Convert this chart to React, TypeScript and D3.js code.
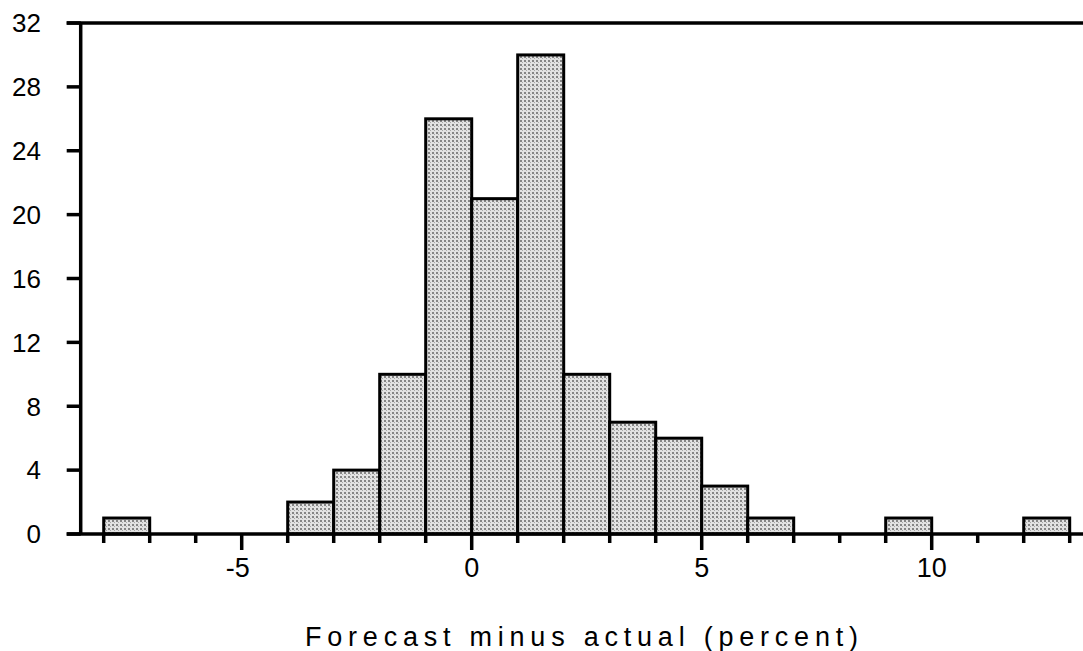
import React, { useRef, useEffect } from "react";
import * as d3 from "d3";

// histogram bins: left edge of each 1-point bin and its count
const binStarts = [-8, -4, -3, -2, -1, 0, 1, 2, 3, 4, 5, 6, 9, 12];
const counts = [1, 2, 4, 10, 26, 21, 30, 10, 7, 6, 3, 1, 1, 1];
const yTicks = [0, 4, 8, 12, 16, 20, 24, 28, 32];
const xMajor = [-5, 0, 5, 10];
const xMinor = [-8, -7, -6, -4, -3, -2, -1, 1, 2, 3, 4, 6, 7, 8, 9, 11, 12, 13];
const xTitle = "Forecast minus actual (percent)";

const W = 1083;
const H = 651;

export default function App() {
  const svgRef = useRef<SVGSVGElement>(null);

  useEffect(() => {
    const svg = d3.select(svgRef.current);
    svg.selectAll("*").remove();

    const x = d3.scaleLinear().domain([-5, 10]).range([241.7, 931.7]);
    const y = d3.scaleLinear().domain([0, 32]).range([534, 23]);
    const left = x(-8.5);
    const right = W;

    // stipple fill
    const defs = svg.append("defs");
    const pat = defs
      .append("pattern")
      .attr("id", "stip")
      .attr("width", 4)
      .attr("height", 4)
      .attr("patternUnits", "userSpaceOnUse");
    pat.append("rect").attr("width", 4).attr("height", 4).attr("fill", "#e2e2e2");
    pat.append("rect").attr("x", 0).attr("y", 0).attr("width", 2).attr("height", 2).attr("fill", "#858585");
    pat.append("rect").attr("x", 2).attr("y", 2).attr("width", 1).attr("height", 1).attr("fill", "#a8a8a8");

    const data = binStarts.map((s, i) => ({ s, c: counts[i] }));

    svg
      .append("g")
      .selectAll("rect")
      .data(data)
      .join("rect")
      .attr("x", (d) => x(d.s))
      .attr("y", (d) => y(d.c))
      .attr("width", (d) => x(d.s + 1) - x(d.s))
      .attr("height", (d) => y(0) - y(d.c))
      .attr("fill", "url(#stip)")
      .attr("stroke", "#000")
      .attr("stroke-width", 3);

    const g = svg.append("g").attr("stroke", "#000").attr("stroke-width", 3.5);
    // frame: left axis, top line, bottom axis
    g.append("line").attr("x1", left).attr("x2", left).attr("y1", y(32)).attr("y2", y(0));
    g.append("line").attr("x1", left - 14).attr("x2", right).attr("y1", y(32)).attr("y2", y(32));
    g.append("line").attr("x1", left - 14).attr("x2", right).attr("y1", y(0)).attr("y2", y(0));

    // y ticks
    g.selectAll(".yt")
      .data(yTicks)
      .join("line")
      .attr("x1", left - 14)
      .attr("x2", left)
      .attr("y1", (d) => y(d))
      .attr("y2", (d) => y(d));

    // x ticks
    g.selectAll(".xmin")
      .data(xMinor)
      .join("line")
      .attr("x1", (d) => x(d))
      .attr("x2", (d) => x(d))
      .attr("y1", y(0))
      .attr("y2", y(0) + 9);
    g.selectAll(".xmaj")
      .data(xMajor)
      .join("line")
      .attr("x1", (d) => x(d))
      .attr("x2", (d) => x(d))
      .attr("y1", y(0))
      .attr("y2", y(0) + 16);

    const font = "Liberation Sans, Arial, sans-serif";
    svg
      .append("g")
      .selectAll("text")
      .data(yTicks)
      .join("text")
      .attr("x", 41)
      .attr("y", (d) => y(d))
      .attr("dy", "0.36em")
      .attr("text-anchor", "end")
      .attr("font-family", font)
      .attr("font-size", 26)
      .text((d) => d);

    svg
      .append("g")
      .selectAll("text")
      .data(xMajor)
      .join("text")
      .attr("x", (d) => x(d) - (d < 0 ? 4 : 0))
      .attr("y", 577)
      .attr("text-anchor", "middle")
      .attr("font-family", font)
      .attr("font-size", 27)
      .text((d) => d);

    svg
      .append("text")
      .attr("x", 305)
      .attr("y", 646)
      .attr("font-family", font)
      .attr("font-size", 27)
      .attr("textLength", 553)
      .attr("lengthAdjust", "spacing")
      .text(xTitle);
  }, []);

  return (
    <svg
      ref={svgRef}
      width={W}
      height={H}
      style={{ position: "absolute", left: 0, top: 0, background: "#fff" }}
    />
  );
}
